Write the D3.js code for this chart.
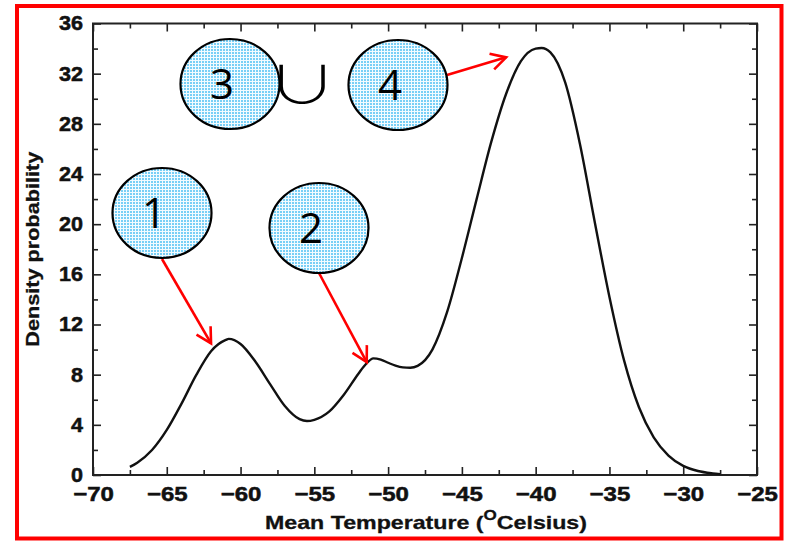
<!DOCTYPE html>
<html>
<head>
<meta charset="utf-8">
<script src="https://cdn.jsdelivr.net/npm/d3@7/dist/d3.min.js"></script>
<style>
  html, body { margin: 0; padding: 0; background: #fff; }
  svg { display: block; }
</style>
</head>
<body>
<svg id="chart" width="785" height="541"></svg>
<script>
// Temperature (°C) and estimated density of mean temperature
const temps = [-67.5, -67, -66, -65, -64, -63, -62, -61, -60.8, -60, -59, -58, -57, -56, -55.5, -55,
  -54, -53, -52, -51.5, -51, -50.5, -50, -49.5, -49, -48.5, -48, -47, -46, -45, -44, -43, -42, -41, -40, -39.6,
  -39, -38, -37, -36, -35, -34, -33, -32, -31, -30, -29, -28, -27.5];
const density = [0.65, 0.98, 1.99, 3.59, 5.69, 7.98, 9.87, 10.77, 10.85, 10.45, 9.05, 7.25, 5.5, 4.45, 4.3, 4.4,
  5.05, 6.4, 8.1, 8.85, 9.3, 9.2, 8.95, 8.72, 8.58, 8.55, 8.7, 10.0, 13.0, 17.3, 22.0, 26.6, 30.4, 33.0, 34.0, 34.05,
  33.7, 31.3, 26.4, 20.2, 14.2, 9.1, 5.4, 3.0, 1.55, 0.73, 0.32, 0.13, 0.07];

// Axis ticks
const xTicks = [-70, -65, -60, -55, -50, -45, -40, -35, -30, -25];
const xMinor = [-67.5, -62.5, -57.5, -52.5, -47.5, -42.5, -37.5, -32.5, -27.5];
const yTicks = [0, 4, 8, 12, 16, 20, 24, 28, 32, 36];
const yMinor = [2, 6, 10, 14, 18, 22, 26, 30, 34];

// Numbered call-outs: bubble centre (px), label, arrow tip in data units
const bubbleLabels = ["1", "2", "3", "4"];
const bubbleCx = [162, 319, 230, 398];
const bubbleCy = [213, 228, 84, 85];
const arrowTipT = [-62.0, -51.45, null, -42.0];
const arrowTipD = [10.5, 9.0, null, 33.3];
const arrowFromX = [162, 319, null, 447];
const arrowFromY = [259, 273, null, 75];

const svg = d3.select("#chart");
const plotL = 93, plotR = 757, plotT = 23.5, plotB = 475;

const x = d3.scaleLinear().domain([-70, -25]).range([plotL, plotR]);
const y = d3.scaleLinear().domain([0, 36]).range([plotB, plotT]);

const SANS = "'Liberation Sans', Arial, Helvetica, sans-serif";

// Grid-textured fill for the bubbles
const defs = svg.append("defs");
const pat = defs.append("pattern").attr("id", "mesh").attr("patternUnits", "userSpaceOnUse")
  .attr("width", 3).attr("height", 3);
pat.append("rect").attr("width", 3).attr("height", 3).attr("fill", "#78cff6");
pat.append("rect").attr("x", 0).attr("y", 0).attr("width", 3).attr("height", 1).attr("fill", "#f2fbff");
pat.append("rect").attr("x", 0).attr("y", 0).attr("width", 1).attr("height", 3).attr("fill", "#f2fbff");

// Outer red frame
svg.append("rect").attr("x", 17).attr("y", 6).attr("width", 764.5).attr("height", 532.5)
  .attr("fill", "none").attr("stroke", "#ff0000").attr("stroke-width", 4);

const axisColor = "#222";

// Ticks pointing inward on all four sides
function inwardAxis(axisGen, tr) {
  const g = svg.append("g").attr("transform", tr).call(axisGen);
  g.select(".domain").remove();
  g.selectAll("line").attr("stroke", axisColor).attr("stroke-width", 1.6);
  return g;
}
inwardAxis(d3.axisTop(x).tickValues(xTicks).tickSize(8).tickFormat(""), `translate(0,${plotB})`);
inwardAxis(d3.axisTop(x).tickValues(xMinor).tickSize(5).tickFormat(""), `translate(0,${plotB})`);
inwardAxis(d3.axisBottom(x).tickValues(xTicks).tickSize(8).tickFormat(""), `translate(0,${plotT})`);
inwardAxis(d3.axisBottom(x).tickValues(xMinor).tickSize(5).tickFormat(""), `translate(0,${plotT})`);
inwardAxis(d3.axisRight(y).tickValues(yTicks).tickSize(8).tickFormat(""), `translate(${plotL},0)`);
inwardAxis(d3.axisRight(y).tickValues(yMinor).tickSize(5).tickFormat(""), `translate(${plotL},0)`);
inwardAxis(d3.axisLeft(y).tickValues(yTicks).tickSize(8).tickFormat(""), `translate(${plotR},0)`);
inwardAxis(d3.axisLeft(y).tickValues(yMinor).tickSize(5).tickFormat(""), `translate(${plotR},0)`);

// Frame
svg.append("rect").attr("x", plotL).attr("y", plotT).attr("width", plotR - plotL).attr("height", plotB - plotT)
  .attr("fill", "none").attr("stroke", axisColor).attr("stroke-width", 2);

// Heavy, slightly wide tick labels
function styleTickText(sel, stretch) {
  sel.attr("font-family", SANS).attr("font-weight", "bold").attr("font-size", 20)
    .attr("fill", "#111").attr("stroke", "#111").attr("stroke-width", 0.5);
  sel.each(function () {
    const w = this.getComputedTextLength();
    d3.select(this).attr("textLength", w * stretch).attr("lengthAdjust", "spacingAndGlyphs");
  });
}
const xl = d3.axisBottom(x).tickValues(xTicks).tickSize(0).tickPadding(12).tickFormat(d3.format("d"));
const gx = svg.append("g").attr("transform", `translate(0,${plotB})`).call(xl);
gx.select(".domain").remove();
gx.attr("font-family", null).attr("font-size", null);
styleTickText(gx.selectAll("text"), 1.2);

const yl = d3.axisLeft(y).tickValues(yTicks).tickSize(0).tickPadding(10).tickFormat(d3.format("d"));
const gy = svg.append("g").attr("transform", `translate(${plotL},0)`).call(yl);
gy.select(".domain").remove();
gy.attr("font-family", null).attr("font-size", null);
styleTickText(gy.selectAll("text"), 1.08);

// Axis titles
svg.append("text").attr("transform", `translate(39,${(plotT + plotB) / 2}) rotate(-90)`)
  .attr("text-anchor", "middle").attr("font-family", SANS).attr("font-weight", "bold")
  .attr("font-size", 19).attr("fill", "#111").attr("stroke", "#111").attr("stroke-width", 0.3)
  .attr("textLength", 195).attr("lengthAdjust", "spacingAndGlyphs")
  .text("Density probability");

const xt = svg.append("text").attr("x", 426).attr("y", 529)
  .attr("text-anchor", "middle").attr("font-family", SANS).attr("font-weight", "bold")
  .attr("font-size", 19).attr("fill", "#111").attr("stroke", "#111").attr("stroke-width", 0.3)
  .attr("textLength", 322).attr("lengthAdjust", "spacingAndGlyphs");
xt.append("tspan").text("Mean Temperature (");
xt.append("tspan").attr("dy", -9).attr("font-size", 14).text("O");
xt.append("tspan").attr("dy", 9).text("Celsius)");

// Density curve
const pts = temps.map((t, i) => [t, density[i]]);
const line = d3.line().x(d => x(d[0])).y(d => y(d[1])).curve(d3.curveMonotoneX);
svg.append("path").attr("d", line(pts)).attr("fill", "none").attr("stroke", "#111")
  .attr("stroke-width", 2.4).attr("stroke-linejoin", "round");

// Red arrows with open heads
function arrow(x1, y1, x2, y2) {
  const g = svg.append("g").attr("stroke", "#ff0000").attr("stroke-width", 2.6)
    .attr("fill", "none").attr("stroke-linecap", "butt");
  g.append("line").attr("x1", x1).attr("y1", y1).attr("x2", x2).attr("y2", y2);
  const a = Math.atan2(y2 - y1, x2 - x1), L = 17, w = 0.5;
  const p1 = [x2 - L * Math.cos(a - w), y2 - L * Math.sin(a - w)];
  const p2 = [x2 - L * Math.cos(a + w), y2 - L * Math.sin(a + w)];
  g.append("path").attr("d", `M${p1[0]},${p1[1]}L${x2},${y2}L${p2[0]},${p2[1]}`)
    .attr("stroke-linejoin", "miter");
}
bubbleLabels.forEach((lab, i) => {
  if (arrowTipT[i] !== null) arrow(arrowFromX[i], arrowFromY[i], x(arrowTipT[i]), y(arrowTipD[i]));
});

// Bubbles
bubbleLabels.forEach((lab, i) => {
  svg.append("ellipse").attr("cx", bubbleCx[i]).attr("cy", bubbleCy[i]).attr("rx", 49.5).attr("ry", 45)
    .attr("fill", "url(#mesh)").attr("stroke", "#000").attr("stroke-width", 2.2);
  svg.append("text").attr("x", bubbleCx[i] - 8).attr("y", bubbleCy[i] + 15)
    .attr("text-anchor", "middle").attr("font-family", "'Open Sans', 'Liberation Sans', sans-serif")
    .attr("font-size", 42).attr("fill", "#000").text(lab);
});

// Union symbol between bubbles 3 and 4
svg.append("text").attr("transform", "translate(302,104) scale(1.35,1)").attr("text-anchor", "middle")
  .attr("font-family", "'Noto Sans CJK SC', 'DejaVu Sans', sans-serif").attr("font-weight", 300)
  .attr("font-size", 52).attr("fill", "#000").text("∪");
</script>
</body>
</html>
